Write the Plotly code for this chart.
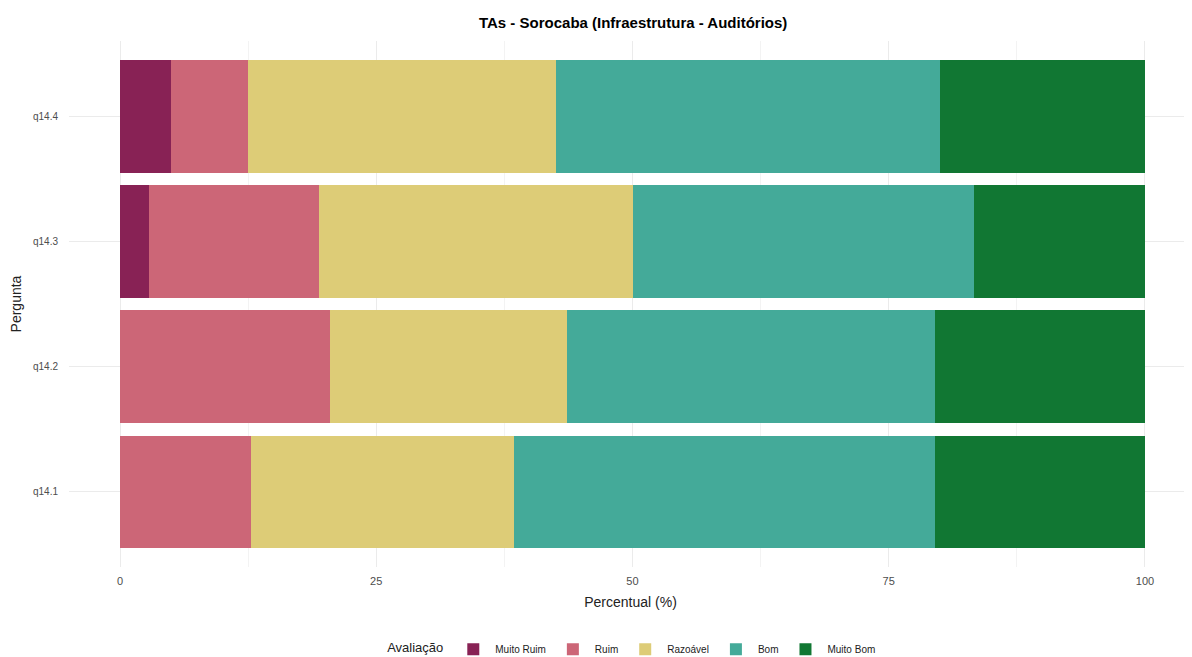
import plotly.graph_objects as go

perguntas = ["q14.1", "q14.2", "q14.3", "q14.4"]
categorias = ["Muito Ruim", "Ruim", "Razoável", "Bom", "Muito Bom"]
cores = ["#882255", "#CC6677", "#DDCC77", "#44AA99", "#117733"]

muito_ruim = [0.0, 0.0, 2.78, 5.0]
ruim = [12.82, 20.51, 16.67, 7.5]
razoavel = [25.64, 23.08, 30.56, 30.0]
bom = [41.03, 35.90, 33.33, 37.5]
muito_bom = [20.51, 20.51, 16.67, 20.0]

valores = [muito_ruim, ruim, razoavel, bom, muito_bom]

fig = go.Figure()
for nome, cor, vals in zip(categorias, cores, valores):
    fig.add_trace(go.Bar(
        y=perguntas, x=vals, name=nome, orientation="h",
        marker=dict(color=cor, line=dict(width=0)),
        hovertemplate="%{y}: %{x:.1f}%<extra>" + nome + "</extra>",
    ))

# page has an 8px body margin; figure is sized to fill the rest of the window
fig.update_layout(
    barmode="stack",
    bargap=0.1,
    width=1184, height=649,
    margin=dict(l=61, r=0, t=33, b=90, autoexpand=False),
    paper_bgcolor="white", plot_bgcolor="white",
    font=dict(family="Liberation Sans, Arial, sans-serif", color="#333333"),
    title=dict(text="<b>TAs - Sorocaba (Infraestrutura - Auditórios)</b>",
               x=0.528, xanchor="center", y=0.978, yanchor="middle",
               font=dict(size=15, color="black")),
    xaxis=dict(
        range=[-4.976, 104.59], tickvals=[0, 25, 50, 75, 100],
        ticktext=["0", "25", "50", "75", "100"],
        showgrid=True, gridcolor="#EBEBEB", gridwidth=1,
        minor=dict(tickvals=[12.5, 37.5, 62.5, 87.5], showgrid=True,
                   gridcolor="#F3F3F3", gridwidth=0.7),
        zeroline=False, showline=False, automargin=False,
        tickfont=dict(size=11, color="#4D4D4D"),
        ticklabelstandoff=6,
        title=dict(text="Percentual (%)", font=dict(size=14, color="#222222"), standoff=11),
        fixedrange=True,
    ),
    yaxis=dict(
        range=[-0.6, 3.6], categoryorder="array", categoryarray=perguntas,
        showgrid=True, gridcolor="#EBEBEB", gridwidth=1,
        zeroline=False, showline=False, automargin=False,
        tickfont=dict(size=10, color="#4D4D4D"),
        ticklabelstandoff=10,
        title=dict(text="Pergunta", font=dict(size=14, color="#222222"), standoff=11),
    ),
    legend=dict(
        orientation="h", xref="container", yref="container",
        x=0.528, xanchor="center", y=0.012, yanchor="middle",
        title=dict(text="Avaliação", font=dict(size=13, color="#222222")),
        font=dict(size=10, color="#222222"),
        itemwidth=34,
        traceorder="normal",
    ),
    showlegend=True,
)

fig.write_html("out.html")
